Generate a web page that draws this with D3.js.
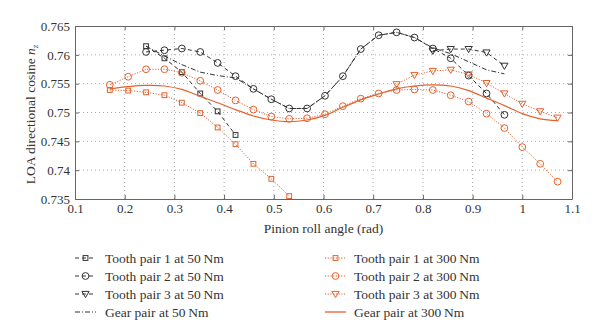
<!DOCTYPE html>
<html><head><meta charset="utf-8">
<script src="https://cdn.jsdelivr.net/npm/d3@7"></script>
<style>body{margin:0;background:#fff}svg{display:block}svg text{font-family:"Liberation Serif","Times New Roman","DejaVu Serif",serif !important;fill:#333}</style>
</head><body><svg id="c" width="600" height="330"></svg>
<script>
// ---- data ----
const xTicks = [0.1,0.2,0.3,0.4,0.5,0.6,0.7,0.8,0.9,1,1.1];
const yTicks = [0.735,0.74,0.745,0.75,0.755,0.76,0.765];
const xTickLabels = ["0.1","0.2","0.3","0.4","0.5","0.6","0.7","0.8","0.9","1","1.1"];
const yTickLabels = ["0.735","0.74","0.745","0.75","0.755","0.76","0.765"];

const angles = [0.170,0.207,0.243,0.280,0.315,0.352,0.387,0.423,0.459,0.495,0.531,0.567,0.603,0.639,0.675,0.711,0.747,0.783,0.820,0.856,0.892,0.928,0.964,1.000,1.036,1.071];

const tp1_50x = [0.243,0.280,0.315,0.352,0.387,0.423];
const tp1_50y = [0.7615,0.7594,0.7570,0.7533,0.7502,0.7461];
const tp2_50x = [0.243,0.280,0.315,0.352,0.387,0.423,0.459,0.495,0.531,0.567,0.603,0.639,0.675,0.711,0.747,0.783,0.820,0.856,0.892,0.928,0.964];
const tp2_50y = [0.7605,0.7608,0.7611,0.7605,0.7586,0.7563,0.7541,0.7523,0.7507,0.7507,0.7529,0.7563,0.7610,0.7634,0.7639,0.7630,0.7611,0.7594,0.7564,0.7533,0.7496];
const tp3_50x = [0.820,0.856,0.892,0.928,0.964];
const tp3_50y = [0.7607,0.7610,0.7610,0.7604,0.7581];
const gear_50x = [0.243,0.280,0.315,0.352,0.387,0.423,0.459,0.495,0.531,0.567,0.603,0.639,0.675,0.711,0.747,0.783,0.820,0.856,0.892,0.928,0.964];
const gear_50y = [0.7615,0.7598,0.7583,0.7570,0.7564,0.7560,0.7541,0.7523,0.7507,0.7507,0.7529,0.7563,0.7610,0.7634,0.7639,0.7630,0.7612,0.7602,0.7588,0.7574,0.7567];

const tp1_300x = [0.170,0.207,0.243,0.280,0.315,0.352,0.387,0.423,0.459,0.495,0.531];
const tp1_300y = [0.7539,0.7538,0.7535,0.7530,0.7517,0.7499,0.7474,0.7445,0.7411,0.7385,0.7355];
const tp2_300x = angles;
const tp2_300y = [0.7548,0.7562,0.7575,0.7575,0.7569,0.7555,0.7539,0.7521,0.7505,0.7493,0.7489,0.7490,0.7497,0.7511,0.7524,0.7533,0.7539,0.7540,0.7539,0.7530,0.7519,0.7498,0.7473,0.7440,0.7411,0.7380];
const tp3_300x = [0.747,0.783,0.820,0.856,0.892,0.928,0.964,1.000,1.036,1.071];
const tp3_300y = [0.7549,0.7565,0.7572,0.7574,0.7566,0.7551,0.7533,0.7515,0.7502,0.7491];
const gear_300x = angles;
const gear_300y = [0.7541,0.7545,0.7547,0.7546,0.7540,0.7528,0.7517,0.7505,0.7494,0.7487,0.7484,0.7487,0.7495,0.7509,0.7522,0.7532,0.7541,0.7546,0.7548,0.7546,0.7538,0.7525,0.7512,0.7498,0.7489,0.7486];

const seriesNames = ["Tooth pair 1 at 50\u2009Nm","Tooth pair 2 at 50\u2009Nm","Tooth pair 3 at 50\u2009Nm","Gear pair at 50\u2009Nm",
                     "Tooth pair 1 at 300\u2009Nm","Tooth pair 2 at 300\u2009Nm","Tooth pair 3 at 300\u2009Nm","Gear pair at 300\u2009Nm"];

// ---- styles ----
const FONT = "Liberation Serif, Times New Roman, DejaVu Serif, serif";
const BLACK = "#333333", ORANGE = "#e4622e";
const series = [
  {x:tp1_50x, y:tp1_50y, color:BLACK, dash:"4,3", marker:"square", curve:d3.curveLinear},
  {x:tp2_50x, y:tp2_50y, color:BLACK, dash:"4,3", marker:"circle", curve:d3.curveLinear},
  {x:tp3_50x, y:tp3_50y, color:BLACK, dash:"4,3", marker:"triangle", curve:d3.curveLinear},
  {x:gear_50x, y:gear_50y, color:BLACK, dash:"5,2,1,2", marker:null, curve:d3.curveLinear},
  {x:tp1_300x, y:tp1_300y, color:ORANGE, dash:"1.2,1.5", marker:"square", curve:d3.curveLinear},
  {x:tp2_300x, y:tp2_300y, color:ORANGE, dash:"1.2,1.5", marker:"circle", curve:d3.curveLinear},
  {x:tp3_300x, y:tp3_300y, color:ORANGE, dash:"1.2,1.5", marker:"triangle", curve:d3.curveLinear},
  {x:gear_300x, y:gear_300y, color:ORANGE, dash:null, marker:null, curve:d3.curveCatmullRom}
];

const svg = d3.select("#c");
const L=75, R=572, T=26, B=199;
const x = d3.scaleLinear().domain([0.1,1.1]).range([L,R]);
const y = d3.scaleLinear().domain([0.735,0.765]).range([B,T]);

// grid
const g = svg.append("g");
g.selectAll(".gx").data(xTicks.slice(1,-1)).enter().append("line")
 .attr("x1",d=>x(d)).attr("x2",d=>x(d)).attr("y1",T).attr("y2",B)
 .attr("stroke","#aaa").attr("stroke-width",1).attr("stroke-dasharray","1,3");
g.selectAll(".gy").data(yTicks.slice(1,-1)).enter().append("line")
 .attr("y1",d=>y(d)).attr("y2",d=>y(d)).attr("x1",L).attr("x2",R)
 .attr("stroke","#aaa").attr("stroke-width",1).attr("stroke-dasharray","1,3");

// axes
const fmtX = (d,i)=>xTickLabels[i], fmtY=(d,i)=>yTickLabels[i];
const axB = svg.append("g").attr("transform",`translate(0,${B})`).call(d3.axisBottom(x).tickValues(xTicks).tickFormat(fmtX).tickSizeInner(-4).tickSizeOuter(0).tickPadding(5));
const axL = svg.append("g").attr("transform",`translate(${L},0)`).call(d3.axisLeft(y).tickValues(yTicks).tickFormat(fmtY).tickSizeInner(-4).tickSizeOuter(0).tickPadding(5));
const axT = svg.append("g").attr("transform",`translate(0,${T})`).call(d3.axisTop(x).tickValues(xTicks).tickFormat("").tickSizeInner(-4).tickSizeOuter(0));
const axR = svg.append("g").attr("transform",`translate(${R},0)`).call(d3.axisRight(y).tickValues(yTicks).tickFormat("").tickSizeInner(-4).tickSizeOuter(0));
[axB,axL,axT,axR].forEach(a=>{
  a.attr("font-family",FONT).attr("font-size",13);
  a.selectAll("path").attr("stroke","#666");
  a.selectAll("line").attr("stroke","#666");
  a.selectAll("text").attr("font-family",FONT).attr("font-size",13).attr("fill","#333");
});

// markers
function marker(sel, type, color){
  if(type==="square"){
    sel.append("rect").attr("x",-2.4).attr("y",-2.4).attr("width",4.8).attr("height",4.8)
      .attr("fill","none").attr("stroke",color).attr("stroke-width",1);
  } else if(type==="circle"){
    sel.append("circle").attr("r",3.4).attr("fill","none").attr("stroke",color).attr("stroke-width",1);
  } else if(type==="triangle"){
    sel.append("path").attr("d","M-3.6,-2.6L3.6,-2.6L0,3.6Z").attr("fill","none").attr("stroke",color).attr("stroke-width",1);
  }
}

const plot = svg.append("g");
series.forEach(s=>{
  const pts = s.x.map((v,i)=>[v,s.y[i]]);
  const line = d3.line().x(d=>x(d[0])).y(d=>y(d[1])).curve(s.curve);
  const p = plot.append("path").attr("d",line(pts)).attr("fill","none")
    .attr("stroke",s.color).attr("stroke-width",s.dash?1:1.2);
  if(s.dash) p.attr("stroke-dasharray",s.dash);
  if(s.marker){
    plot.selectAll(null).data(pts).enter().append("g")
      .attr("transform",d=>`translate(${x(d[0])},${y(d[1])})`)
      .each(function(){ marker(d3.select(this), s.marker, s.color); });
  }
});

// axis labels
svg.append("text").attr("x",(L+R)/2).attr("y",233).attr("text-anchor","middle").attr("font-size",13.5)
  .attr("font-family",FONT).text("Pinion roll angle (rad)");
const yl = svg.append("text").attr("transform",`translate(35,${(T+B)/2+2}) rotate(-90)`).attr("text-anchor","middle")
  .attr("font-size",13.5).attr("font-family",FONT);
yl.append("tspan").text("LOA directional cosine ");
yl.append("tspan").attr("font-style","italic").text("n");
yl.append("tspan").attr("font-style","italic").attr("font-size",9).attr("dy",3).text("z");

// legend
const legCols = [{sx:75, tx:105},{sx:325, tx:354}];
const legRows = [258,276,294,312];
series.forEach((s,i)=>{
  const col = legCols[Math.floor(i/4)], ry = legRows[i%4];
  const lg = svg.append("g");
  const ln = lg.append("line").attr("x1",col.sx).attr("x2",col.sx+21).attr("y1",ry).attr("y2",ry)
    .attr("stroke",s.color).attr("stroke-width",s.dash?1:1.3);
  if(s.dash) ln.attr("stroke-dasharray",s.dash);
  if(s.marker){ const m = lg.append("g").attr("transform",`translate(${col.sx+10.5},${ry})`); marker(m,s.marker,s.color); }
  lg.append("text").attr("x",col.tx).attr("y",ry+4.5).attr("font-size",13.5).attr("font-family",FONT).text(seriesNames[i]);
});
</script></body></html>
